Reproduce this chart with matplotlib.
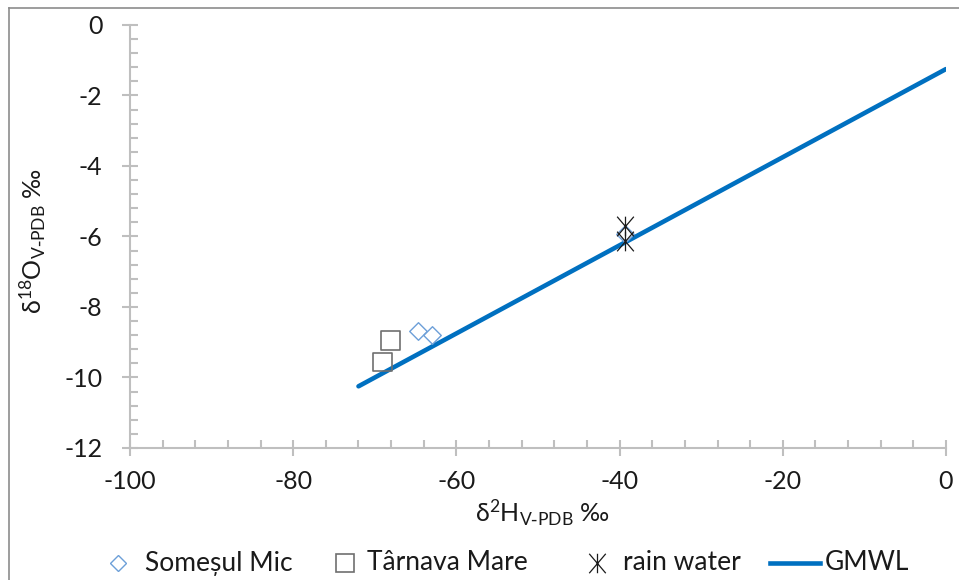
import matplotlib
matplotlib.use("Agg")
import matplotlib.pyplot as plt
from matplotlib.path import Path
from matplotlib.lines import Line2D
from matplotlib.ticker import MultipleLocator

plt.rcParams["font.family"] = ["Lato", "DejaVu Sans"]
plt.rcParams["mathtext.default"] = "regular"
plt.rcParams["axes.unicode_minus"] = False

# data
somes_h = [-64.7, -63.0, -39.3]
somes_o = [-8.68, -8.79, -5.92]
tarnava_h = [-68.1, -69.1]
tarnava_o = [-8.96, -9.56]
rain_h = [-39.3, -39.3]
rain_o = [-5.70, -6.13]
gmwl_h = [-72, 0]
gmwl_o = [(h - 10) / 8 for h in gmwl_h]

labels = ["Someșul Mic", "Târnava Mare", "rain water", "GMWL"]

blue = "#0070c0"
diam_col = "#6c9fd8"
sq_col = "#6f6f6f"
txt_col = "#1a1a1a"

# excel-like star: vertical bar plus an X
star = Path([(0, -1), (0, 1), (-0.85, -1), (0.85, 1), (-0.85, 1), (0.85, -1)],
            [Path.MOVETO, Path.LINETO, Path.MOVETO, Path.LINETO, Path.MOVETO, Path.LINETO])

fig = plt.figure(figsize=(9.59, 5.8), dpi=100)
ax = fig.add_axes([0.1356, 0.2276, 0.8508, 0.7293])

ax.plot(gmwl_h, gmwl_o, color=blue, lw=3.3, solid_capstyle="round", zorder=2)
ax.scatter(somes_h, somes_o, marker="D", s=80, facecolors="white", edgecolors=diam_col,
           linewidths=1.0, zorder=3)
ax.scatter(tarnava_h, tarnava_o, marker="s", s=185, facecolors="none", edgecolors=sq_col,
           linewidths=1.2, zorder=3)
ax.scatter(rain_h, rain_o, marker=star, s=200, color=txt_col, linewidths=0.9, zorder=4)

ax.set_xlim(-100, 0)
ax.set_ylim(-12, 0)
ax.xaxis.set_major_locator(MultipleLocator(20))
ax.xaxis.set_minor_locator(MultipleLocator(4))
ax.yaxis.set_major_locator(MultipleLocator(2))
ax.yaxis.set_minor_locator(MultipleLocator(0.4))

for s in ["top", "right"]:
    ax.spines[s].set_visible(False)
for s in ["left", "bottom"]:
    ax.spines[s].set_color("#bfbfbf")
    ax.spines[s].set_linewidth(1.5)

ax.tick_params(which="major", direction="inout", length=11.5, width=1.5, color="#bfbfbf",
               labelsize=18, labelcolor=txt_col, pad=10)
ax.tick_params(which="minor", direction="in", length=5.5, width=1.5, color="#bfbfbf")
ax.tick_params(axis="y", which="major", pad=14)

fig.text(0.565, 0.115, r"δ$^2$H$_{V\text{-}PDB}$ ‰", ha="center", va="center", fontsize=18, color=txt_col)
fig.text(0.034, 0.585, r"δ$^{18}$O$_{V\text{-}PDB}$ ‰", ha="center", va="center", rotation=90,
         fontsize=18, color=txt_col)

# grey frame round the chart area (left and top only visible)
fig.add_artist(Line2D([0.0095, 0.0095], [0.0, 0.986], color="#8c8c8c", lw=1.2))
fig.add_artist(Line2D([0.0095, 1.0], [0.986, 0.986], color="#8c8c8c", lw=1.2))

# legend laid out by hand, like the excel one
W, H = 959.0, 580.0
ly = 1 - 563 / H
fig.add_artist(Line2D([118 / W], [ly], marker="D", ls="none", markersize=8, markerfacecolor="white",
                      markeredgecolor=diam_col, markeredgewidth=1.0))
fig.add_artist(Line2D([345 / W], [ly], marker="s", ls="none", markersize=12.5, markerfacecolor="none",
                      markeredgecolor=sq_col, markeredgewidth=1.2))
fig.add_artist(Line2D([597 / W], [ly], marker=star, ls="none", markersize=14, color=txt_col,
                      markeredgewidth=0.9))
fig.add_artist(Line2D([770 / W, 820 / W], [ly, ly], color=blue, lw=3.3))
for x, lab in zip([145, 367, 623, 825], labels):
    fig.text(x / W, ly, lab, ha="left", va="center", fontsize=19, color=txt_col)

fig.savefig("out.png", dpi=100)
